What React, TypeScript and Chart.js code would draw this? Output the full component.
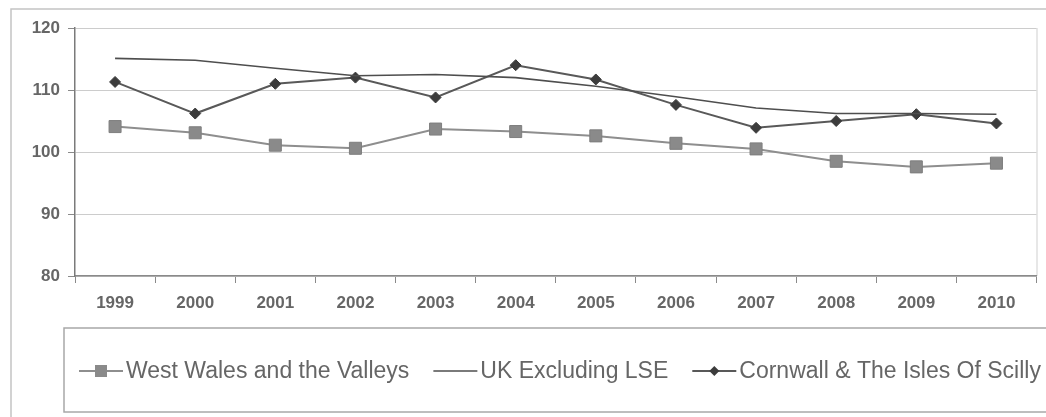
import React, { useEffect, useRef } from "react";
import { Chart, registerables } from "chart.js";

Chart.register(...registerables);

// Index values by year
const years = ["1999", "2000", "2001", "2002", "2003", "2004", "2005", "2006", "2007", "2008", "2009", "2010"];
const westWales = [104.1, 103.1, 101.1, 100.6, 103.7, 103.3, 102.6, 101.4, 100.5, 98.5, 97.6, 98.2];
const ukExclLSE = [115.1, 114.8, 113.5, 112.3, 112.5, 112.0, 110.6, 108.9, 107.1, 106.2, 106.2, 106.1];
const cornwall = [111.3, 106.2, 111.0, 112.0, 108.8, 114.0, 111.7, 107.6, 103.9, 105.0, 106.1, 104.6];

const seriesNames = ["West Wales and the Valleys", "UK Excluding LSE", "Cornwall & The Isles Of Scilly"];
const yTicks = [80, 90, 100, 110, 120];

const FONT = '"Liberation Sans", Arial, sans-serif';

// Outer frame, right plot border and the boxed legend underneath the axis
const framePlugin = {
  id: "frameAndLegend",
  beforeDraw(chart: any) {
    const { ctx, chartArea } = chart;
    ctx.save();
    ctx.strokeStyle = "#c4c4c4";
    ctx.lineWidth = 1.5;
    ctx.strokeRect(11, 9, 1060, 440);
    ctx.strokeStyle = "#cfcfcf";
    ctx.lineWidth = 1;
    ctx.beginPath();
    ctx.moveTo(chartArea.right + 0.5, chartArea.top);
    ctx.lineTo(chartArea.right + 0.5, chartArea.bottom);
    ctx.stroke();
    ctx.restore();
  },
  afterDraw(chart: any) {
    const { ctx } = chart;
    ctx.save();
    ctx.strokeStyle = "#a8a8a8";
    ctx.lineWidth = 1.5;
    ctx.strokeRect(64, 328, 1000, 84);

    const cy = 371;
    let x = 79;
    ctx.font = `23px ${FONT}`;
    ctx.textBaseline = "middle";
    chart.data.datasets.forEach((ds: any) => {
      const lineLen = 44;
      ctx.strokeStyle = ds.borderColor;
      ctx.lineWidth = ds.borderWidth;
      ctx.beginPath();
      ctx.moveTo(x, cy);
      ctx.lineTo(x + lineLen, cy);
      ctx.stroke();
      const mx = x + lineLen / 2;
      if (ds.pointStyle === "rect" && ds.pointRadius > 0) {
        ctx.fillStyle = ds.pointBackgroundColor;
        ctx.fillRect(mx - 6, cy - 6, 12, 12);
      } else if (ds.pointStyle === "rectRot" && ds.pointRadius > 0) {
        const r = 5;
        ctx.fillStyle = ds.pointBackgroundColor;
        ctx.beginPath();
        ctx.moveTo(mx, cy - r);
        ctx.lineTo(mx + r, cy);
        ctx.lineTo(mx, cy + r);
        ctx.lineTo(mx - r, cy);
        ctx.closePath();
        ctx.fill();
      }
      x += lineLen + 3;
      ctx.fillStyle = "#666666";
      ctx.fillText(ds.label, x, cy + 1);
      x += ctx.measureText(ds.label).width + 24;
    });
    ctx.restore();
  },
};

export default function App() {
  const canvasRef = useRef<HTMLCanvasElement | null>(null);

  useEffect(() => {
    const canvas = canvasRef.current;
    if (!canvas) return;
    const chart = new Chart(canvas, {
      type: "line",
      data: {
        labels: years,
        datasets: [
          {
            label: seriesNames[0],
            data: westWales,
            borderColor: "#8e8e8e",
            borderWidth: 2,
            pointStyle: "rect",
            pointRadius: 8.5,
            pointBackgroundColor: "#8a8a8a",
            pointBorderColor: "#7e7e7e",
            pointBorderWidth: 1,
            tension: 0,
          },
          {
            label: seriesNames[1],
            data: ukExclLSE,
            borderColor: "#4e4e4e",
            borderWidth: 1.6,
            pointRadius: 0,
            tension: 0,
          },
          {
            label: seriesNames[2],
            data: cornwall,
            borderColor: "#595959",
            borderWidth: 2,
            pointStyle: "rectRot",
            pointRadius: 5.5,
            pointBackgroundColor: "#3c3c3c",
            pointBorderColor: "#3c3c3c",
            pointBorderWidth: 1,
            tension: 0,
          },
        ],
      },
      options: {
        responsive: false,
        animation: false,
        devicePixelRatio: 1,
        layout: { padding: { left: 0, top: 28, right: 4, bottom: 0 } },
        plugins: {
          legend: { display: false },
          tooltip: { enabled: false },
        },
        scales: {
          x: {
            offset: true,
            grid: {
              offset: true,
              drawOnChartArea: false,
              drawTicks: true,
              tickLength: 7,
              tickColor: "#8a8a8a",
            },
            border: { color: "#8a8a8a", width: 1.5 },
            ticks: {
              color: "#666666",
              font: { family: FONT, size: 17, weight: "bold" },
              padding: 10,
              maxRotation: 0,
              autoSkip: false,
            },
            afterFit: (scale: any) => {
              scale.height = 141;
            },
          },
          y: {
            min: 80,
            max: 120,
            afterBuildTicks: (scale: any) => {
              scale.ticks = yTicks.map((v) => ({ value: v }));
            },
            grid: {
              color: "#cccccc",
              lineWidth: 1,
              drawTicks: true,
              tickLength: 7,
              tickColor: "#8a8a8a",
            },
            border: { color: "#7a7a7a", width: 1.5 },
            ticks: {
              color: "#666666",
              font: { family: FONT, size: 17, weight: "bold" },
              padding: 8,
            },
            afterFit: (scale: any) => {
              scale.width = 75;
            },
          },
        },
      },
      plugins: [framePlugin],
    });
    return () => chart.destroy();
  }, []);

  return (
    <div style={{ position: "absolute", left: 0, top: 0, width: 1046, height: 417, background: "#ffffff" }}>
      <canvas ref={canvasRef} width={1046} height={417} style={{ display: "block" }} />
    </div>
  );
}
